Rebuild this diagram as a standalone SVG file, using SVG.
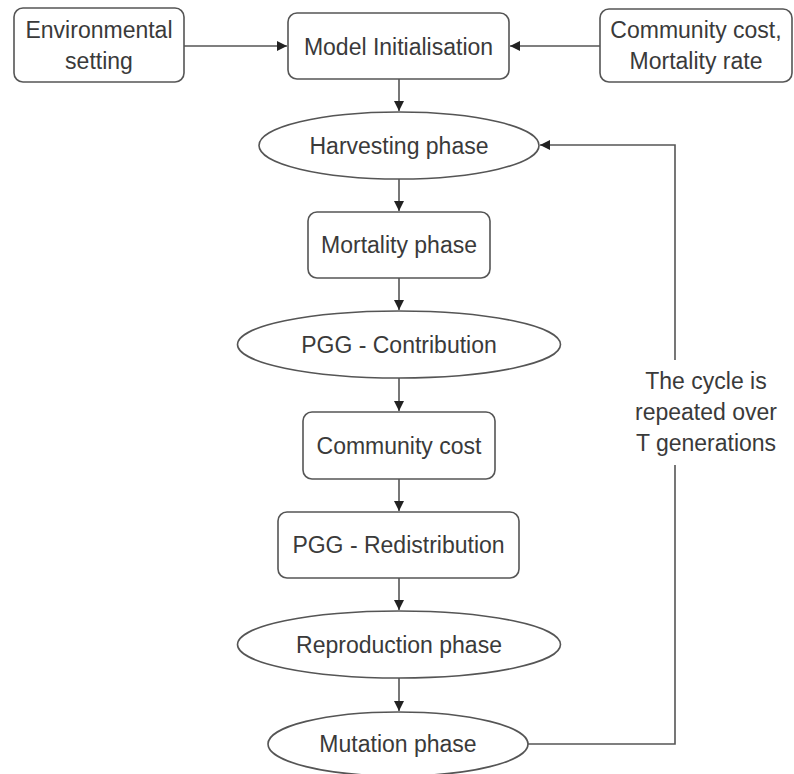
<svg xmlns="http://www.w3.org/2000/svg" width="794" height="774" viewBox="0 0 794 774">
<style>
.n{fill:#fff;stroke:#555;stroke-width:1.6}
.t{font-family:"Liberation Sans",Arial,sans-serif;font-size:23px;fill:#3a3a3a;text-anchor:middle}
.c{fill:none;stroke:#555;stroke-width:1.6}
</style>
<defs>
<marker id="ah" markerUnits="userSpaceOnUse" markerWidth="11" markerHeight="10" refX="10" refY="5" orient="auto">
<path d="M0,0 L10,5 L0,10 z" fill="#222"/>
</marker>
</defs>
<rect width="794" height="774" fill="#fff"/>
<g id="connectors">
<path class="c" d="M184,46 L287,46" marker-end="url(#ah)"/>
<path class="c" d="M600,46 L510,46" marker-end="url(#ah)"/>
<path class="c" d="M399,79 L399,111" marker-end="url(#ah)"/>
<path class="c" d="M399,179 L399,211" marker-end="url(#ah)"/>
<path class="c" d="M399,278 L399,310" marker-end="url(#ah)"/>
<path class="c" d="M399,378 L399,411" marker-end="url(#ah)"/>
<path class="c" d="M399,479 L399,511" marker-end="url(#ah)"/>
<path class="c" d="M399,578 L399,610" marker-end="url(#ah)"/>
<path class="c" d="M399,678 L399,711" marker-end="url(#ah)"/>
<path class="c" d="M528,744 L675,744 L675,465"/>
<path class="c" d="M675,360 L675,145 L540,145" marker-end="url(#ah)"/>
<text class="t"><tspan x="706" y="389">The cycle is</tspan><tspan x="706" y="420">repeated over</tspan><tspan x="706" y="451">T generations</tspan></text>
</g>
<g id="env">
<rect class="n" x="14" y="8" width="170" height="74" rx="9"/>
<text class="t"><tspan x="99" y="38">Environmental</tspan><tspan x="99" y="69">setting</tspan></text>
</g>
<g id="model">
<rect class="n" x="288" y="13" width="221" height="66" rx="9"/>
<text class="t" x="398.5" y="55">Model Initialisation</text>
</g>
<g id="params">
<rect class="n" x="600" y="9" width="192" height="73" rx="9"/>
<text class="t"><tspan x="696" y="38">Community cost,</tspan><tspan x="696" y="69">Mortality rate</tspan></text>
</g>
<g id="harvest">
<ellipse class="n" cx="399" cy="145.5" rx="140" ry="33.5"/>
<text class="t" x="399" y="153.5">Harvesting phase</text>
</g>
<g id="mortality">
<rect class="n" x="308" y="212" width="182" height="66" rx="9"/>
<text class="t" x="399" y="253">Mortality phase</text>
</g>
<g id="contribution">
<ellipse class="n" cx="399" cy="344.5" rx="161.5" ry="33.5"/>
<text class="t" x="399" y="352.5">PGG - Contribution</text>
</g>
<g id="community">
<rect class="n" x="303" y="412" width="192" height="67" rx="9"/>
<text class="t" x="399" y="453.5">Community cost</text>
</g>
<g id="redistribution">
<rect class="n" x="278" y="512" width="241" height="66" rx="9"/>
<text class="t" x="398.5" y="553">PGG - Redistribution</text>
</g>
<g id="reproduction">
<ellipse class="n" cx="399" cy="644.5" rx="161.5" ry="33.5"/>
<text class="t" x="399" y="652.5">Reproduction phase</text>
</g>
<g id="mutation">
<ellipse class="n" cx="398" cy="744" rx="130" ry="32"/>
<text class="t" x="398" y="752">Mutation phase</text>
</g>
</svg>
